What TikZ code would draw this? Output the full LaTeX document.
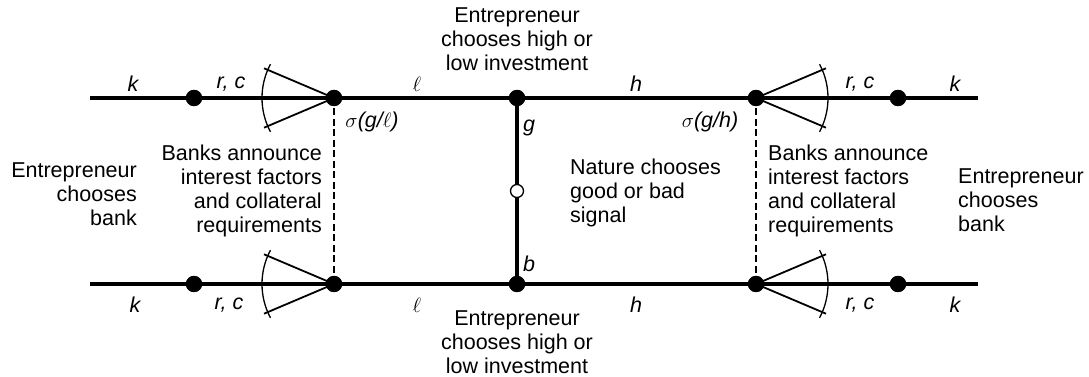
\documentclass[tikz,border=0pt]{standalone}
\usepackage{fontspec}
\setmainfont{Liberation Sans}
\begin{document}
\begin{tikzpicture}[x=1pt,y=1pt,
  every node/.style={inner sep=0pt},
  mainline/.style={line width=3.3pt},
  dot/.style={circle,fill=black,minimum size=16pt,inner sep=0pt},
  odot/.style={circle,draw=black,fill=white,line width=1.3pt,minimum size=13pt,inner sep=0pt},
  fanline/.style={line width=1.8pt},
  fanarc/.style={line width=1.3pt},
  dashline/.style={line width=1.2pt,dash pattern=on 7pt off 3.5pt},
  lbl/.style={font=\fontsize{21.5}{24}\selectfont\itshape},
  txt/.style={font=\fontsize{21.5}{24}\selectfont}
]
\useasboundingbox (0,0) rectangle (1089,377);
% endpoints
\coordinate (TL) at (90,279);
\coordinate (TR) at (978,279);
\coordinate (BL) at (90,93);
\coordinate (BR) at (978,93);
% dots
\node[dot] (t1) at (194,279) {};
\node[dot] (t2) at (334,279) {};
\node[dot] (t3) at (517,279) {};
\node[dot] (t4) at (756,279) {};
\node[dot] (t5) at (898,279) {};
\node[dot] (b1) at (194,93) {};
\node[dot] (b2) at (334,93) {};
\node[dot] (b3) at (517,93) {};
\node[dot] (b4) at (756,93) {};
\node[dot] (b5) at (898,93) {};
% main lines
\draw[mainline] (TL) -- (t1.center) -- (t2.center) -- (t3.center) -- (t4.center) -- (t5.center) -- (TR);
\draw[mainline] (BL) -- (b1.center) -- (b2.center) -- (b3.center) -- (b4.center) -- (b5.center) -- (BR);
\draw[mainline] (t3.center) -- (b3.center);
% dashed
\draw[dashline] (t2.center) -- (b2.center);
\draw[dashline] (t4.center) -- (b4.center);
% fans left
\foreach \n in {t2,b2}{
  \draw[fanline] (\n.center) -- ++(157:76pt);
  \draw[fanline] (\n.center) -- ++(203:76pt);
  \draw[fanarc] (\n.center) ++(152:72pt) arc[start angle=152,end angle=208,radius=72pt];
}
% fans right
\foreach \n in {t4,b4}{
  \draw[fanline] (\n.center) -- ++(23:76pt);
  \draw[fanline] (\n.center) -- ++(-23:76pt);
  \draw[fanarc] (\n.center) ++(-28:72pt) arc[start angle=-28,end angle=28,radius=72pt];
}
% dots on top
\foreach \n in {t1,t2,t3,t4,t5,b1,b2,b3,b4,b5}{
  \fill (\n.center) circle (8.2pt);
}
\node[odot] (nat) at (517,186) {};
% labels top
\node[lbl] (lk1) at (133,293) {k};
\node[lbl] (lrc1) at (231,293) {r, c};
\node[lbl] (ll1) at (417,293) {$\ell$};
\node[lbl] (lh1) at (636,293) {h};
\node[lbl] (lrc2) at (860,293) {r, c};
\node[lbl] (lk2) at (955,293) {k};
% labels bottom
\node[lbl] (lk3) at (135,72) {k};
\node[lbl] (lrc3) at (229,72) {r, c};
\node[lbl] (ll2) at (417,72) {$\ell$};
\node[lbl] (lh2) at (636,72) {h};
\node[lbl] (lrc4) at (860,72) {r, c};
\node[lbl] (lk4) at (955,72) {k};
% sigma
\node[lbl] (s1) at (372,255) {$\sigma$(g/$\ell$)};
\node[lbl] (s2) at (710,255) {$\sigma$(g/h)};
\node[lbl] (lg) at (529,249) {g};
\node[lbl] (lb) at (529,113) {b};
% texts
\node[txt,align=center] (top) at (517,338) {Entrepreneur\\chooses high or\\low investment};
\node[txt,align=center] (bot) at (517,35) {Entrepreneur\\chooses high or\\low investment};
\node[txt,align=right,anchor=east] (ecl) at (137,183) {Entrepreneur\\chooses\\bank};
\node[txt,align=right,anchor=east] (bal) at (322,186) {Banks announce\\interest factors\\and collateral\\requirements};
\node[txt,align=left,anchor=west] (natt) at (570,184) {Nature chooses\\good or bad\\signal};
\node[txt,align=left,anchor=west] (bar) at (768,186) {Banks announce\\interest factors\\and collateral\\requirements};
\node[txt,align=left,anchor=west] (ecr) at (958,177) {Entrepreneur\\chooses\\bank};
\end{tikzpicture}
\end{document}
